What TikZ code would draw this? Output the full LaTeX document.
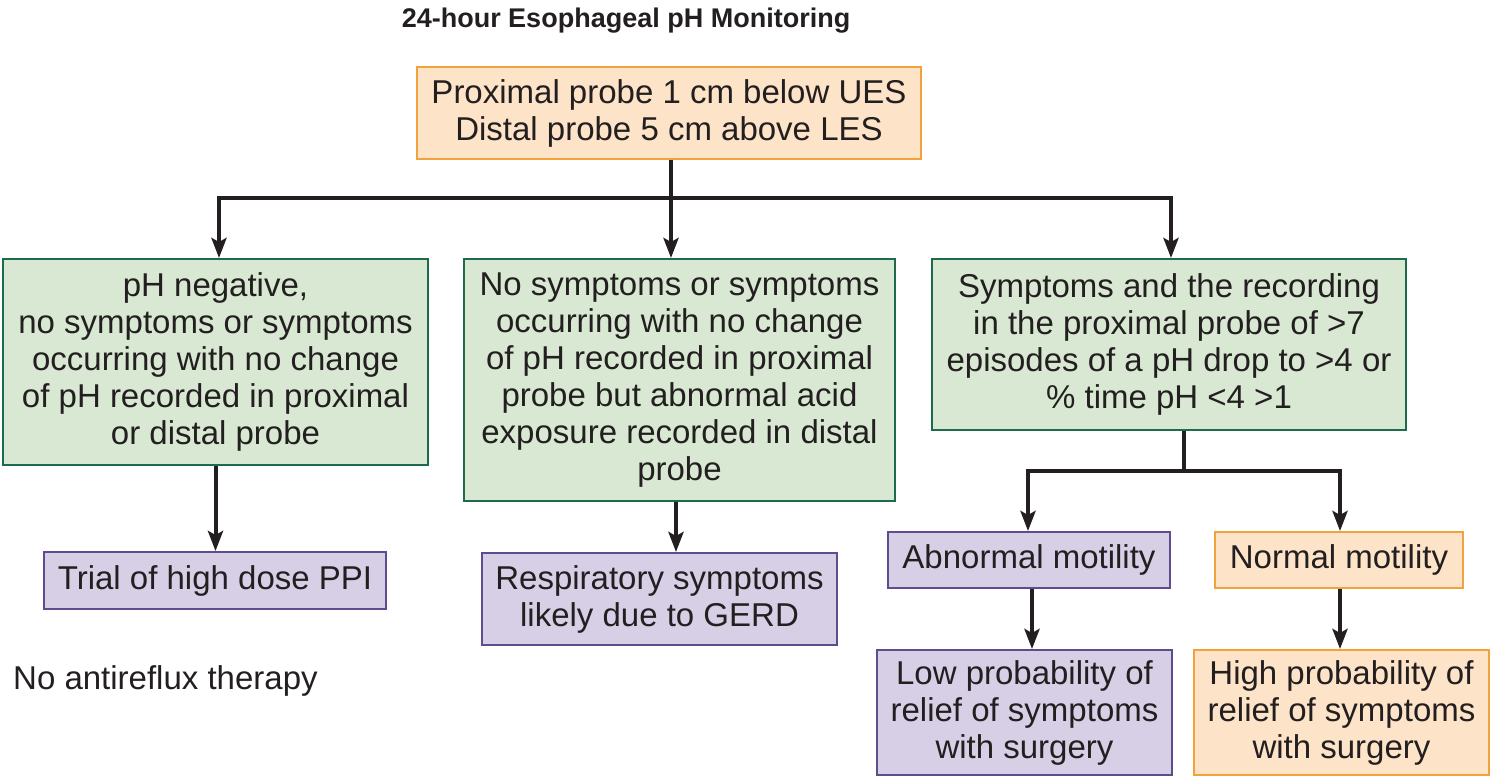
\documentclass[tikz,border=0pt]{standalone}
\usepackage{fontspec}
\setmainfont{Liberation Sans}
\usetikzlibrary{arrows.meta}
\definecolor{orfill}{HTML}{FDE3C7}
\definecolor{ordraw}{HTML}{F2A23C}
\definecolor{grfill}{HTML}{D9E8D3}
\definecolor{grdraw}{HTML}{1E6B4C}
\definecolor{pufill}{HTML}{D6CFE6}
\definecolor{pudraw}{HTML}{5E4C8E}
\definecolor{ink}{HTML}{231F20}
\begin{document}
\begin{tikzpicture}[x=1pt,y=-1pt,
  every node/.style={text=ink},
  box/.style={draw, line width=2pt, inner sep=0pt, align=center,
    font=\fontsize{33}{37}\selectfont},
  orbox/.style={box, fill=orfill, draw=ordraw},
  grbox/.style={box, fill=grfill, draw=grdraw},
  pubox/.style={box, fill=pufill, draw=pudraw},
  conn/.style={draw=ink, line width=4pt},
  arr/.style={conn, -{Stealth[length=20pt,width=15pt,inset=4pt]}},
  plain/.style={font=\fontsize{33}{37}\selectfont, inner sep=0pt},
  title/.style={font=\fontsize{27}{32}\selectfont\bfseries, inner sep=0pt}
]
\useasboundingbox (0,0) rectangle (1491,778);

\node[title] (ttl) at (626,21) {24-hour Esophageal pH Monitoring};

\node[orbox, minimum width=504pt, minimum height=92pt] (top) at (669,113)
  {Proximal probe 1 cm below UES\\Distal probe 5 cm above LES};

\node[grbox, minimum width=425pt, minimum height=206pt] (g1) at (215.5,362)
  {pH negative,\\no symptoms or symptoms\\occurring with no change\\of pH recorded in proximal\\or distal probe};
\node[grbox, minimum width=431pt, minimum height=242pt] (g2) at (679.5,380)
  {No symptoms or symptoms\\occurring with no change\\of pH recorded in proximal\\probe but abnormal acid\\exposure recorded in distal\\probe};
\node[grbox, minimum width=474pt, minimum height=171pt] (g3) at (1169,344.5)
  {Symptoms and the recording\\in the proximal probe of >7\\episodes of a pH drop to >4 or\\\% time pH <4 >1};

\node[pubox, minimum width=342pt, minimum height=57pt] (p1) at (215,580.5)
  {Trial of high dose PPI};
\node[pubox, minimum width=355pt, minimum height=92pt] (p2) at (659.5,599)
  {Respiratory symptoms\\likely due to GERD};

\node[plain, anchor=west] (nat) at (13,681) {No antireflux therapy};

\node[pubox, minimum width=282pt, minimum height=56pt] (am) at (1029,560)
  {Abnormal motility};
\node[orbox, minimum width=248pt, minimum height=56pt] (nm) at (1339,560)
  {Normal motility};
\node[pubox, minimum width=295pt, minimum height=125pt] (lp) at (1024.5,712.5)
  {Low probability of\\relief of symptoms\\with surgery};
\node[orbox, minimum width=295pt, minimum height=125pt] (hp) at (1341.5,712.5)
  {High probability of\\relief of symptoms\\with surgery};

% top split
\coordinate (j0) at (671,198);
\coordinate (b1) at (219,198);
\coordinate (b2) at (671,198);
\coordinate (b3) at (1171,198);
\draw[conn] (j0 |- top.south) -- (j0);
\draw[conn, line cap=rect] (b1) -- (b3);
\draw[arr] (b1) -- (b1 |- g1.north);
\draw[arr] (b2) -- (b2 |- g2.north);
\draw[arr] (b3) -- (b3 |- g3.north);

% left and middle
\draw[arr] (g1.south) -- (g1.south |- p1.north);
\coordinate (m2) at (676,501);
\draw[arr] (m2 |- g2.south) -- (m2 |- p2.north);

% right split
\coordinate (j3) at (1184,471);
\coordinate (c1) at (1028,471);
\coordinate (c2) at (1340,471);
\draw[conn] (j3 |- g3.south) -- (j3);
\draw[conn, line cap=rect] (c1) -- (c2);
\draw[arr] (c1) -- (c1 |- am.north);
\draw[arr] (c2) -- (c2 |- nm.north);

\coordinate (d1) at (1032,600);
\coordinate (d2) at (1340,600);
\draw[arr] (d1 |- am.south) -- (d1 |- lp.north);
\draw[arr] (d2 |- nm.south) -- (d2 |- hp.north);
\end{tikzpicture}
\end{document}
